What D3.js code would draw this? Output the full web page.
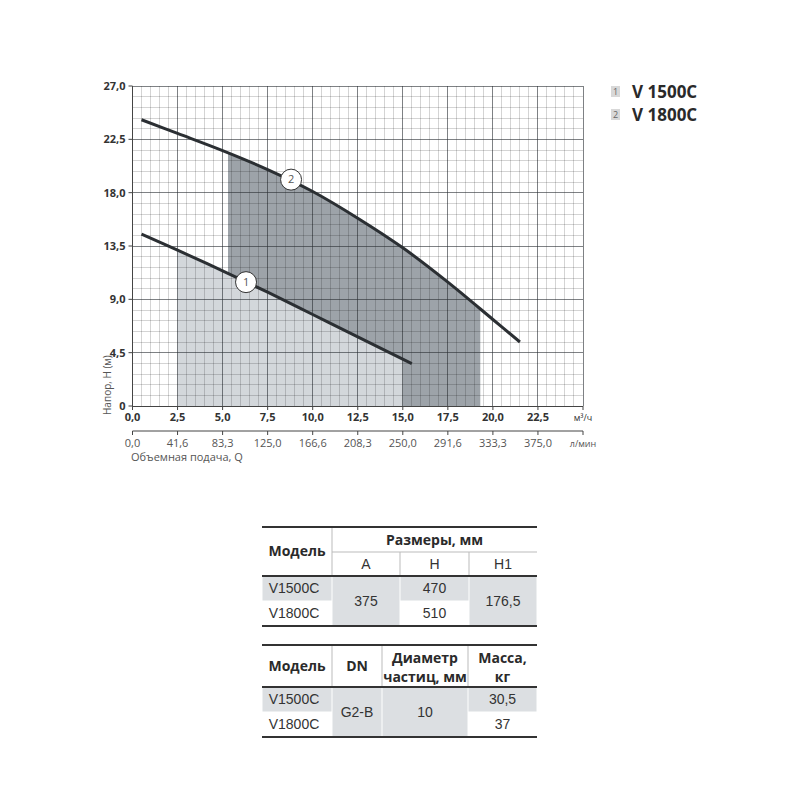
<!DOCTYPE html>
<html>
<head>
<meta charset="utf-8">
<script src="https://cdn.jsdelivr.net/npm/d3@7"></script>
<style>
  body { margin: 0; background: #fff; }
  svg { display: block; font-family: "Open Sans", "DejaVu Sans", sans-serif; }
</style>
</head>
<body>
<svg width="800" height="800"></svg>
<script>
///////////////////////////////////////////
//////////////// Data /////////////////////
///////////////////////////////////////////
const models = ["V1500C", "V1800C"]

// Q (m3/h) vs H (m)
const q1 = [0.5, 2.5, 5.0, 7.5, 10.0, 12.5, 15.5]
const h1 = [14.5, 13.15, 11.4, 9.6, 7.72, 5.83, 3.58]
const q2 = [0.5, 2.5, 5.0, 7.5, 10.0, 12.5, 15.0, 17.5, 20.0, 21.5]
const h2 = [24.15, 23.0, 21.55, 19.95, 18.1, 15.85, 13.35, 10.45, 7.3, 5.4]

// working ranges (shaded)
const range1 = [2.5, 15.0]
const range2 = [5.3, 19.3]

// circle markers on curves [Q, H]
const marker1 = [6.3, 10.45]
const marker2 = [8.8, 19.1]

const qTicks = [0, 2.5, 5, 7.5, 10, 12.5, 15, 17.5, 20, 22.5, 25]
const qLabels = ["0,0", "2,5", "5,0", "7,5", "10,0", "12,5", "15,0", "17,5", "20,0", "22,5", "м³/ч"]
const lpmLabels = ["0,0", "41,6", "83,3", "125,0", "166,6", "208,3", "250,0", "291,6", "333,3", "375,0", "л/мин"]
const hTicks = [0, 4.5, 9, 13.5, 18, 22.5, 27]
const hLabels = ["0", "4,5", "9,0", "13,5", "18,0", "22,5", "27,0"]

// tables
const sizeHeads = ["A", "H", "H1"]
const sizeA = "375"
const sizeH = ["470", "510"]
const sizeH1 = "176,5"
const dn = "G2-B"
const particle = "10"
const mass = ["30,5", "37"]

///////////////////////////////////////////
//////////////// Constants ////////////////
///////////////////////////////////////////
const darkFill = "#9da3a9"
const lightFill = "#d3d7db"
const curveColour = "#2b2f33"
const textColour = "#333"
const softText = "#555"
const cellFill = "#dcdfe2"

const svg = d3.select("svg")

const x = d3.scaleLinear().domain([0, 25]).range([132.5, 583])
const y = d3.scaleLinear().domain([0, 27]).range([406, 86])

///////////////////////////////////////////
//////////////// Fills ////////////////////
///////////////////////////////////////////
const defs = svg.append("defs")
const addClip = (id, r) => defs.append("clipPath").attr("id", id)
  .append("rect")
    .attr("x", x(r[0])).attr("width", x(r[1]) - x(r[0]))
    .attr("y", y(27)).attr("height", y(0) - y(27))
addClip("clip2", range2)
addClip("clip1", range1)

const pts1 = q1.map((q, i) => [q, h1[i]])
const pts2 = q2.map((q, i) => [q, h2[i]])

const smooth = d3.curveCatmullRom.alpha(0.5)

const area = d3.area()
  .x(d => x(d[0])).y0(y(0)).y1(d => y(d[1]))
  .curve(smooth)

svg.append("path").datum(pts2)
  .attr("d", area).attr("fill", darkFill).attr("clip-path", "url(#clip2)")
svg.append("path").datum(pts1)
  .attr("d", area).attr("fill", lightFill).attr("clip-path", "url(#clip1)")

///////////////////////////////////////////
//////////////// Grid /////////////////////
///////////////////////////////////////////
const grid = svg.append("g").attr("shape-rendering", "crispEdges")
const isMajor = (v, step) => Math.abs(v / step - Math.round(v / step)) < 1e-6

grid.selectAll(".vx")
  .data(d3.range(0, 25.001, 0.5))
  .join("line")
    .attr("x1", d => x(d)).attr("x2", d => x(d))
    .attr("y1", y(0)).attr("y2", y(27))
    .attr("stroke", d => isMajor(d, 2.5) ? "rgba(40,45,50,0.6)" : "rgba(0,0,0,0.17)")
    .attr("stroke-width", 1)

grid.selectAll(".hy")
  .data(d3.range(0, 27.001, 0.9))
  .join("line")
    .attr("x1", x(0)).attr("x2", x(25))
    .attr("y1", d => y(d)).attr("y2", d => y(d))
    .attr("stroke", d => isMajor(d, 4.5) ? "rgba(40,45,50,0.6)" : "rgba(0,0,0,0.17)")
    .attr("stroke-width", 1)

// axes frame
grid.append("line").attr("x1", x(0)).attr("x2", x(0)).attr("y1", y(0)).attr("y2", y(27))
  .attr("stroke", "#444")
grid.append("line").attr("x1", x(0)).attr("x2", x(25)).attr("y1", y(0)).attr("y2", y(0))
  .attr("stroke", "#444")

///////////////////////////////////////////
//////////////// Curves ///////////////////
///////////////////////////////////////////
const line = d3.line().x(d => x(d[0])).y(d => y(d[1])).curve(smooth)
;[pts1, pts2].forEach(p => {
  svg.append("path").datum(p)
    .attr("d", line)
    .attr("fill", "none")
    .attr("stroke", curveColour)
    .attr("stroke-width", 3)
})

;[[marker1, "1"], [marker2, "2"]].forEach(([m, t]) => {
  const g = svg.append("g").attr("transform", `translate(${x(m[0])},${y(m[1])})`)
  g.append("circle").attr("r", 10.5).attr("fill", "#fff").attr("stroke", "#333").attr("stroke-width", 1)
  g.append("text").attr("dy", "0.35em").attr("text-anchor", "middle")
    .attr("font-size", 11).attr("fill", softText).text(t)
})

///////////////////////////////////////////
//////////////// Axes /////////////////////
///////////////////////////////////////////
const yAxis = svg.append("g")
yAxis.selectAll("line").data(hTicks).join("line")
  .attr("x1", x(0) - 4).attr("x2", x(0))
  .attr("y1", d => y(d)).attr("y2", d => y(d))
  .attr("stroke", "#444")
yAxis.selectAll("text").data(hTicks).join("text")
  .attr("x", x(0) - 7).attr("y", d => y(d)).attr("dy", "0.35em")
  .attr("text-anchor", "end").attr("font-size", 11).attr("font-weight", "bold")
  .attr("fill", textColour)
  .text((d, i) => hLabels[i])

const xAxis = svg.append("g")
xAxis.selectAll("line").data(qTicks).join("line")
  .attr("x1", d => x(d)).attr("x2", d => x(d))
  .attr("y1", y(0)).attr("y2", y(0) + 4)
  .attr("stroke", "#444")
xAxis.selectAll("text").data(qTicks).join("text")
  .attr("x", d => x(d)).attr("y", y(0) + 15)
  .attr("text-anchor", "middle")
  .attr("font-size", (d, i) => i === qTicks.length - 1 ? 9 : 11)
  .attr("font-weight", (d, i) => i === qTicks.length - 1 ? "normal" : "bold")
  .attr("fill", textColour)
  .text((d, i) => qLabels[i])

// secondary axis in l/min
const y2 = y(0) + 25
const lAxis = svg.append("g")
lAxis.append("line").attr("x1", x(0)).attr("x2", x(25)).attr("y1", y2).attr("y2", y2)
  .attr("stroke", "#444")
lAxis.selectAll(".t").data(qTicks).join("line")
  .attr("x1", d => x(d)).attr("x2", d => x(d))
  .attr("y1", y2).attr("y2", y2 + 4)
  .attr("stroke", "#444")
lAxis.selectAll("text").data(qTicks).join("text")
  .attr("x", d => x(d)).attr("y", y2 + 16)
  .attr("text-anchor", "middle")
  .attr("font-size", (d, i) => i === qTicks.length - 1 ? 9 : 11)
  .attr("fill", softText)
  .text((d, i) => lpmLabels[i])

svg.append("text").attr("x", x(0) - 1.5).attr("y", y2 + 30)
  .attr("font-size", 11).attr("fill", softText).text("Объемная подача, Q")

svg.append("text")
  .attr("transform", `translate(${x(0) - 22},${y(0) + 9}) rotate(-90)`)
  .attr("font-size", 10).attr("fill", softText).text("Напор, H (м)")

///////////////////////////////////////////
//////////////// Legend ///////////////////
///////////////////////////////////////////
const legend = svg.append("g").attr("transform", "translate(611,86)")
models.forEach((m, i) => {
  const g = legend.append("g").attr("transform", `translate(0,${i * 23})`)
  g.append("rect").attr("width", 9).attr("height", 11).attr("fill", "#d8d8d8")
  g.append("text").attr("x", 4.5).attr("y", 9).attr("text-anchor", "middle")
    .attr("font-size", 9).attr("fill", "#666").text(i + 1)
  g.append("text").attr("x", 21).attr("y", 11.5)
    .attr("font-size", 17).attr("font-weight", "bold").attr("fill", "#2a2a2a")
    .text(m.replace("V", "V "))
})

///////////////////////////////////////////
//////////////// Tables ///////////////////
///////////////////////////////////////////
const cellText = (g, tx, ty, t, bold) => g.append("text")
  .attr("x", tx).attr("y", ty).attr("dy", "0.35em")
  .attr("text-anchor", "middle")
  .attr("font-size", 14)
  .attr("font-weight", bold ? "bold" : "normal")
  .attr("font-family", bold ? "'Open Sans', sans-serif" : "'Liberation Sans', Arial, sans-serif")
  .attr("fill", bold ? "#2a2a2a" : textColour)
  .text(t)

const cell = (g, x0, y0, x1, y1, fill) => g.append("rect")
  .attr("x", x0 + 0.5).attr("y", y0 + 0.5)
  .attr("width", x1 - x0 - 1).attr("height", y1 - y0 - 1)
  .attr("fill", fill)

const rule = (g, x0, x1, yy, w, c) => g.append("line")
  .attr("x1", x0).attr("x2", x1).attr("y1", yy).attr("y2", yy)
  .attr("stroke", c).attr("stroke-width", w)

const vrule = (g, xx, y0, y1, c) => g.append("line")
  .attr("x1", xx).attr("x2", xx).attr("y1", y0).attr("y2", y1)
  .attr("stroke", c).attr("stroke-width", 1)

// table 1 - dimensions
{
  const g = svg.append("g")
  const cx = [262, 332, 400, 469, 537]
  const top = 527, mid = 552, head = 576, r1 = 601, bot = 626
  const mc = (a, b) => (a + b) / 2

  // shaded cells
  cell(g, cx[0], head, cx[1], r1, cellFill)
  cell(g, cx[1], head, cx[2], bot, cellFill)
  cell(g, cx[2], head, cx[3], r1, cellFill)
  cell(g, cx[3], head, cx[4], bot, cellFill)

  vrule(g, cx[1], top, head, "#bbb")
  vrule(g, cx[2], mid, head, "#bbb")
  vrule(g, cx[3], mid, head, "#bbb")
  rule(g, cx[1], cx[4], mid, 1, "#bbb")
  rule(g, cx[0], cx[4], top, 2, "#333")
  rule(g, cx[0], cx[4], head, 2, "#333")
  rule(g, cx[0], cx[4], bot, 2, "#333")

  cellText(g, mc(cx[0], cx[1]), mc(top, head), "Модель", true)
  cellText(g, mc(cx[1], cx[4]), mc(top, mid) + 1, "Размеры, мм", true)
  sizeHeads.forEach((h, i) => cellText(g, mc(cx[i + 1], cx[i + 2]), mc(mid, head), h, false))
  models.forEach((m, i) => {
    const yy = i === 0 ? mc(head, r1) : mc(r1, bot)
    cellText(g, mc(cx[0], cx[1]) - 3, yy, m, false)
    cellText(g, mc(cx[2], cx[3]), yy, sizeH[i], false)
  })
  cellText(g, mc(cx[1], cx[2]), mc(head, bot), sizeA, false)
  cellText(g, mc(cx[3], cx[4]), mc(head, bot), sizeH1, false)
}

// table 2 - DN, particle size, mass
{
  const g = svg.append("g")
  const cx = [262, 332, 382, 468, 537]
  const top = 645, head = 687, r1 = 712, bot = 737
  const mc = (a, b) => (a + b) / 2

  cell(g, cx[0], head, cx[1], r1, cellFill)
  cell(g, cx[1], head, cx[2], bot, cellFill)
  cell(g, cx[2], head, cx[3], bot, cellFill)
  cell(g, cx[3], head, cx[4], r1, cellFill)

  vrule(g, cx[1], top, head, "#bbb")
  vrule(g, cx[2], top, head, "#bbb")
  vrule(g, cx[3], top, head, "#bbb")
  rule(g, cx[0], cx[4], top, 2, "#333")
  rule(g, cx[0], cx[4], head, 2, "#333")
  rule(g, cx[0], cx[4], bot, 2, "#333")

  cellText(g, mc(cx[0], cx[1]), mc(top, head), "Модель", true)
  cellText(g, mc(cx[1], cx[2]), mc(top, head), "DN", true)
  cellText(g, mc(cx[2], cx[3]), 658, "Диаметр", true)
  cellText(g, mc(cx[2], cx[3]), 677, "частиц, мм", true)
  cellText(g, mc(cx[3], cx[4]), 658, "Масса,", true)
  cellText(g, mc(cx[3], cx[4]), 677, "кг", true)
  models.forEach((m, i) => {
    const yy = i === 0 ? mc(head, r1) : mc(r1, bot)
    cellText(g, mc(cx[0], cx[1]) - 3, yy, m, false)
    cellText(g, mc(cx[3], cx[4]), yy, mass[i], false)
  })
  cellText(g, mc(cx[1], cx[2]), mc(head, bot), dn, false)
  cellText(g, mc(cx[2], cx[3]), mc(head, bot), particle, false)
}
</script>
</body>
</html>
